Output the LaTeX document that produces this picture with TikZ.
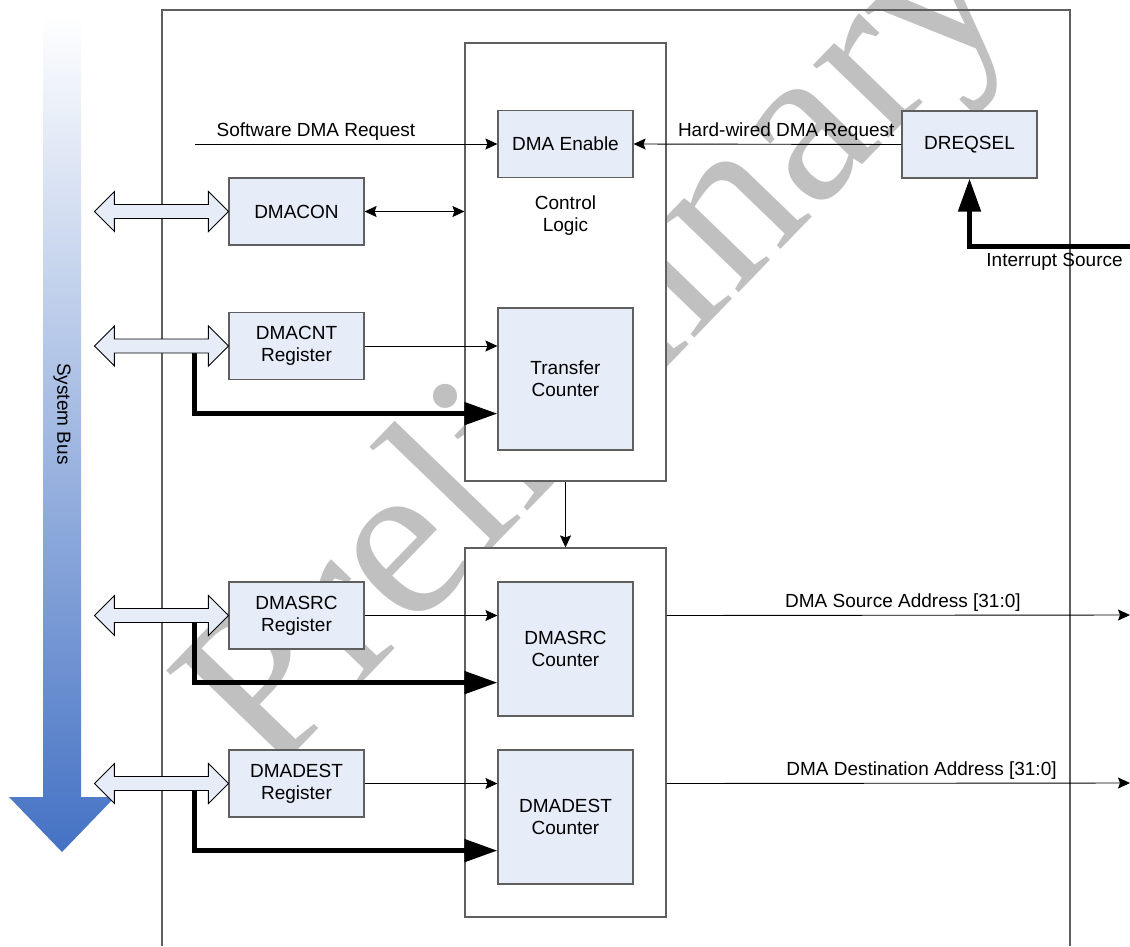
\documentclass[tikz,border=0pt]{standalone}
\usepackage{fontspec}
\setmainfont{Liberation Sans}
\newfontfamily\markfont{Liberation Serif}
\usetikzlibrary{arrows.meta}
\definecolor{boxfill}{RGB}{230,237,248}
\definecolor{boxline}{RGB}{95,95,95}
\definecolor{busblue}{RGB}{68,114,196}
\definecolor{markgray}{RGB}{192,192,192}

\begin{document}
\begin{tikzpicture}[x=1pt, y=-1pt, font=\fontsize{19}{22}\selectfont,
    regbox/.style={draw=boxline, line width=1.2pt, fill=boxfill, align=center, inner sep=0pt, minimum width=135pt, minimum height=67pt},
    outerbox/.style={draw=boxline, line width=1.2pt, fill=white, inner sep=0pt, minimum width=201pt},
    sig/.style={line width=0.9pt, -{Stealth[length=12pt, width=11pt, inset=2pt]}},
    twosig/.style={line width=0.9pt, {Stealth[length=12pt, width=11pt, inset=2pt]}-{Stealth[length=12pt, width=11pt, inset=2pt]}},
    bigsig/.style={line width=5pt, -{Triangle[length=33pt, width=22pt]}},
    busarrow/.style={draw=black, line width=0.9pt, fill=boxfill}]
    \useasboundingbox (0,0) rectangle (1130,946);

    % watermark
    \node[rotate=46, text=markgray, font=\markfont\fontsize{228}{228}\selectfont] (watermark) at (604,354) {Preliminary};

    % frame, open at the bottom
    \draw[boxline, line width=1.2pt] (162,946) -- (162,10) -- (1070,10) -- (1070,946);

    % system bus
    \shade[top color=white, bottom color=busblue] (43,15) -- (81,15) -- (81,797) -- (115,797) -- (62,852) -- (9,797) -- (43,797) -- cycle;
    \node[rotate=-90] (buslabel) at (62,414) {System Bus};

    % control logic and counters
    \node[outerbox, minimum height=438pt] (ctl) at (565.5,262) {};
    \node[regbox] (en) at (565.5,144) {DMA Enable};
    \node[align=center] (ctltext) at (565.5,216) {Control\\Logic};
    \node[regbox, minimum height=142pt] (tc) at (565.5,379) {Transfer\\Counter};
    \node[outerbox, minimum height=369pt] (ctr) at (565.5,732.5) {};
    \node[regbox, minimum height=134pt] (sc) at (565.5,649) {DMASRC\\Counter};
    \node[regbox, minimum height=134pt] (dc) at (565.5,817) {DMADEST\\Counter};

    % registers
    \node[regbox] (con) at (296.5,211.5) {DMACON};
    \node[regbox] (cnt) at (296.5,346) {DMACNT\\Register};
    \node[regbox] (src) at (296.5,615.5) {DMASRC\\Register};
    \node[regbox] (dest) at (296.5,783.5) {DMADEST\\Register};
    \node[regbox] (dreq) at (969.5,144.5) {DREQSEL};

    \coordinate (swreq) at (195,144);
    \coordinate (irq) at (1130,246);
    \coordinate (srcout) at (1130,615);
    \coordinate (destout) at (1130,783);

    % thin signals
    \draw[sig] (swreq) -- (en.west) node[pos=0.4, above] {Software DMA Request};
    \draw[sig] (dreq.west) -- (en.east) node[pos=0.43, above] {Hard-wired DMA Request};
    \draw[twosig] (con.east) -- (con.east -| ctl.west);
    \draw[sig] (cnt.east) -- (cnt.east -| tc.west);
    \draw[sig] (src.east) -- (src.east -| sc.west);
    \draw[sig] (dest.east) -- (dest.east -| dc.west);
    \draw[sig] (ctl.south) -- (ctr.north);
    \draw[sig] (src.east -| ctr.east) -- (srcout) node[pos=0.51, above] {DMA Source Address [31:0]};
    \draw[sig] (dest.east -| ctr.east) -- (destout) node[pos=0.55, above] {DMA Destination Address [31:0]};

    % thick loads
    \draw[bigsig] ([xshift=-34pt]cnt.west) |- ([yshift=37pt]tc.south west);
    \draw[bigsig] ([xshift=-34pt]src.west) |- ([yshift=34pt]sc.south west);
    \draw[bigsig] ([xshift=-34pt]dest.west) |- ([yshift=34pt]dc.south west);
    \draw[bigsig] (irq) -| (dreq.south) node[pos=0.235, below=1pt] {Interrupt Source};

    % bus arrows
    \foreach \r in {con,cnt,src,dest}
        \draw[busarrow] (\r.west) -- ++(-20,-20) -- ++(0,13) -- ++(-94,0) -- ++(0,-13) -- ++(-20,20) -- ++(20,20) -- ++(0,-13) -- ++(94,0) -- ++(0,13) -- cycle;
\end{tikzpicture}
\end{document}
